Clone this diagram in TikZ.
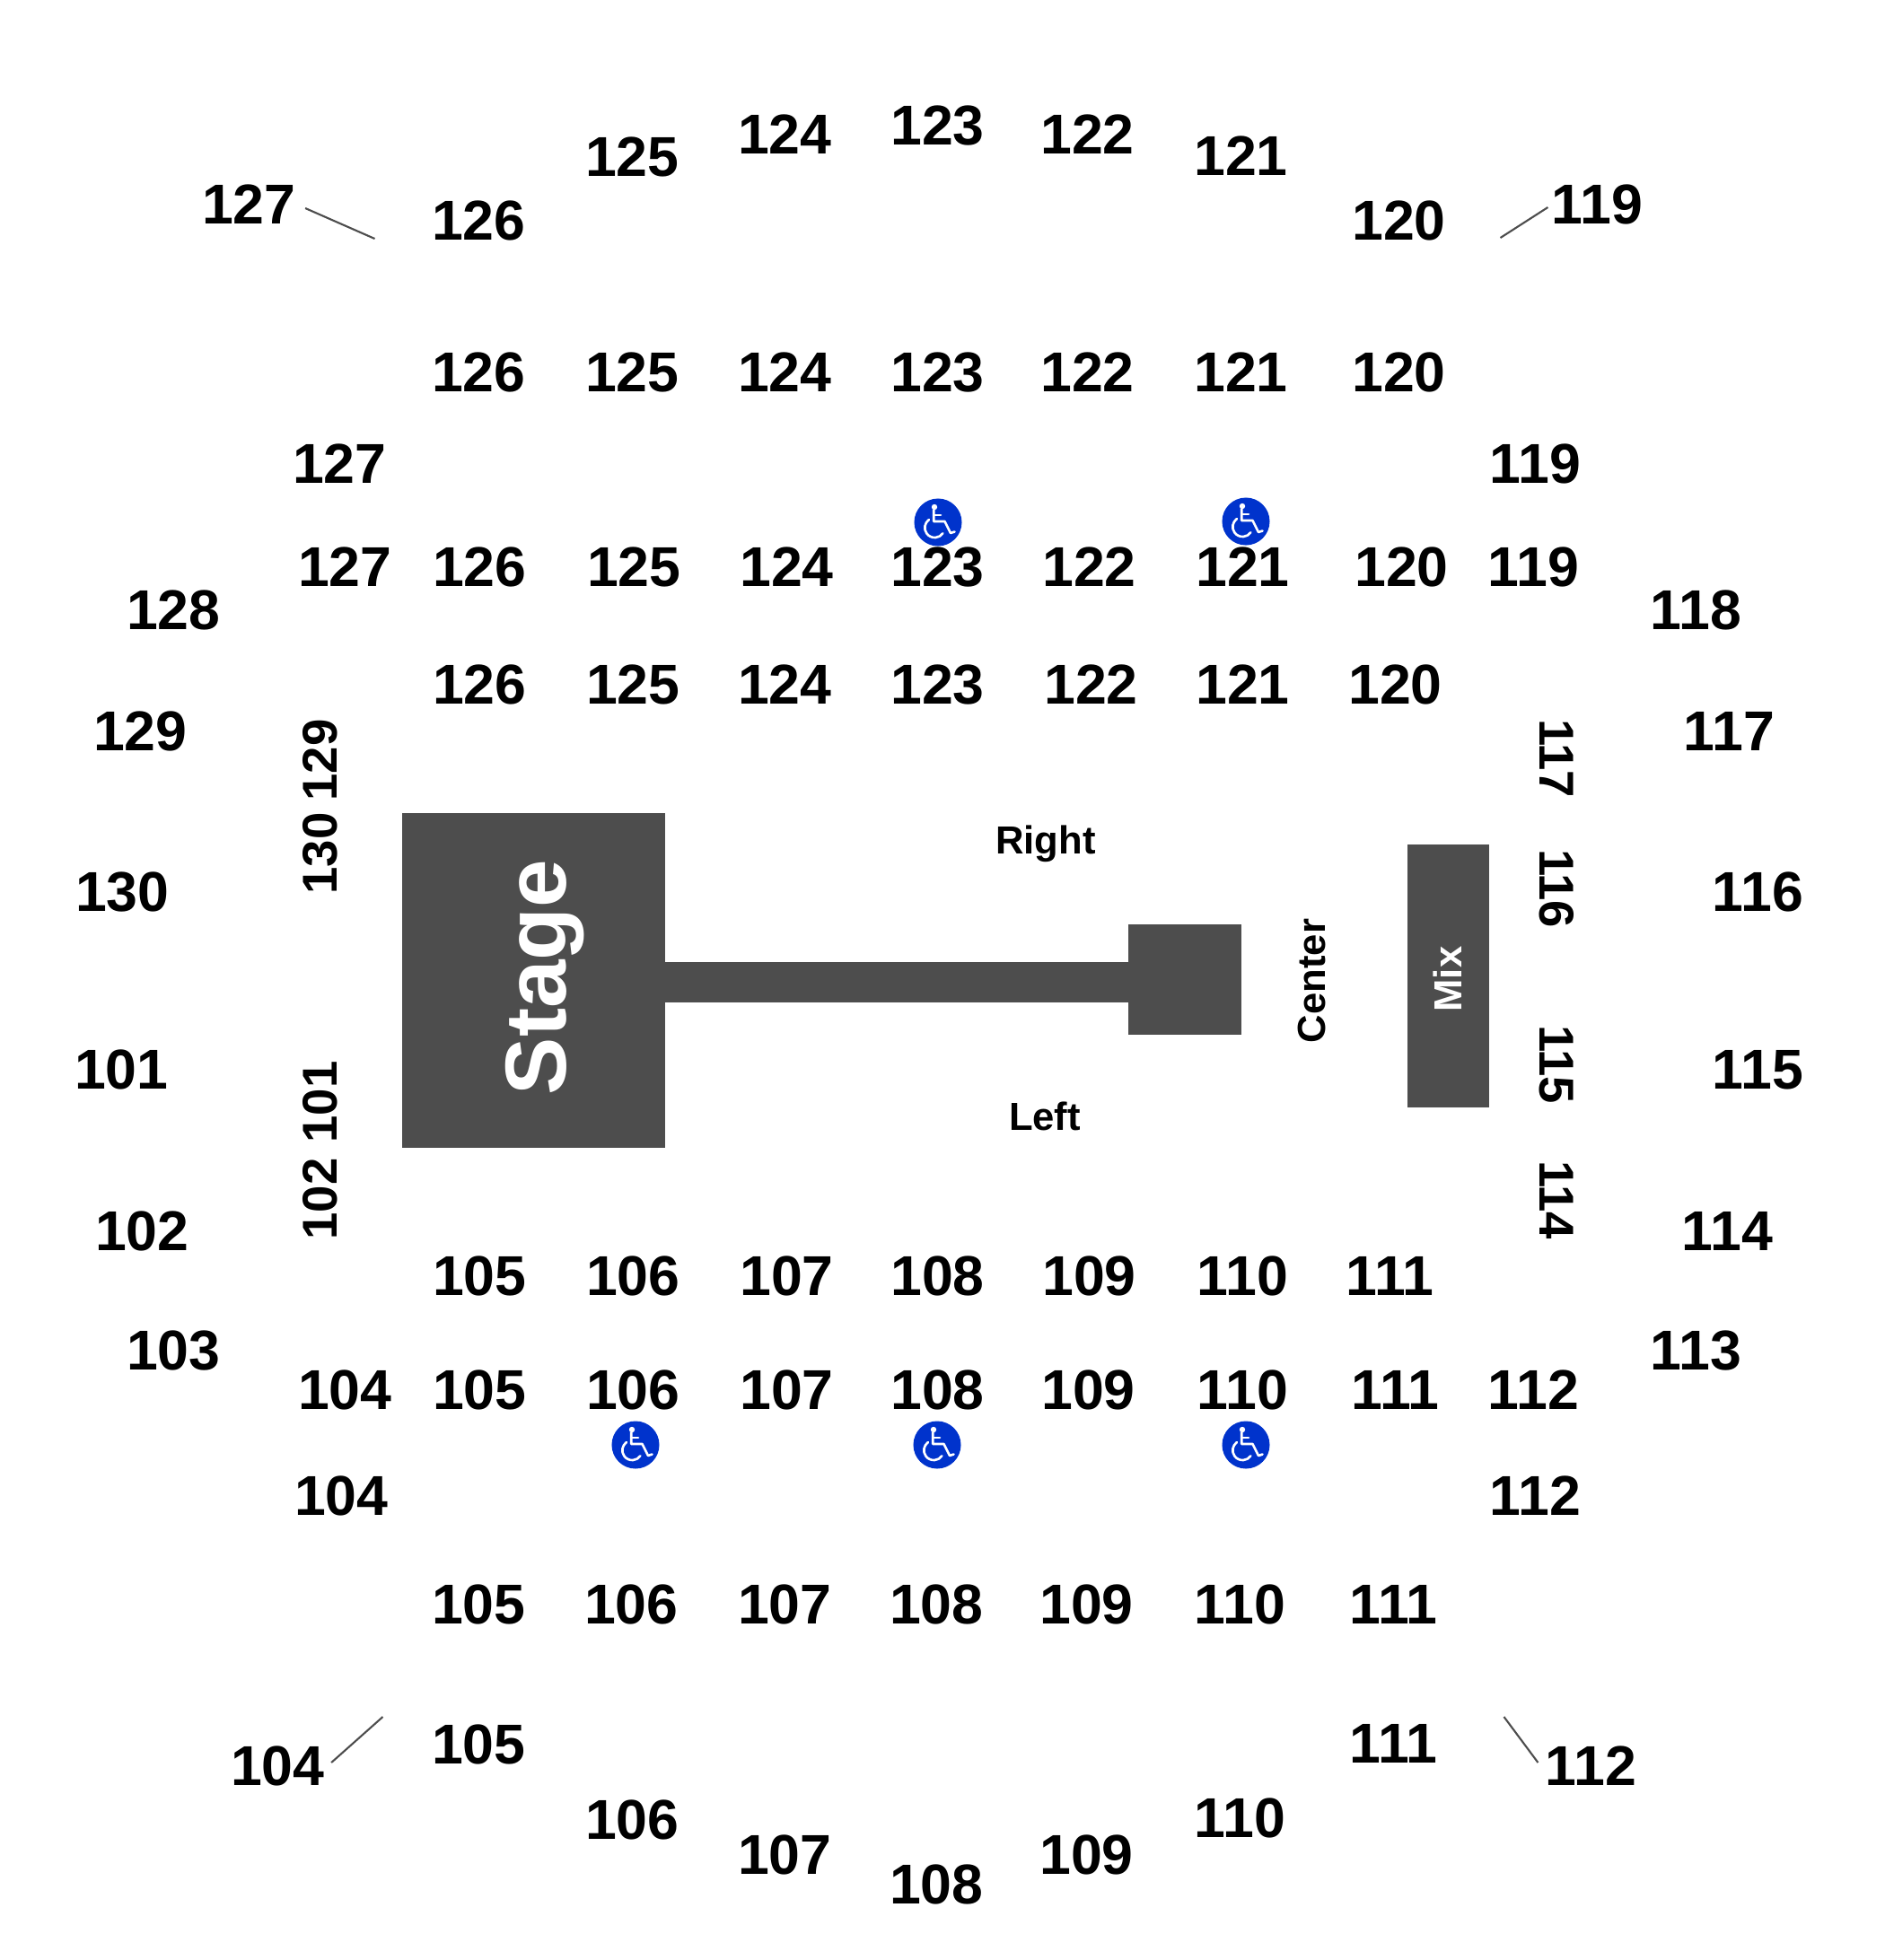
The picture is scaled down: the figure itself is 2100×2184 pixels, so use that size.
\documentclass[tikz,border=0pt]{standalone}
\usepackage{fontspec}
\setmainfont{Liberation Sans}
\usetikzlibrary{positioning, calc}

\definecolor{stagegray}{HTML}{4D4D4D}
\definecolor{accessblue}{HTML}{0033CC}

\begin{document}
\begin{tikzpicture}[
  x=0.01cm, y=-0.01cm,
  % Section numbers around the floor
  seclabel/.style={inner sep=2.5pt, xshift=0.4pt, font=\fontsize{17.8}{20}\selectfont\bfseries, text=black},
  sideup/.style={seclabel, rotate=90, font=\fontsize{15.5}{18}\selectfont\bfseries},
  sidedown/.style={seclabel, rotate=-90, font=\fontsize{15.5}{18}\selectfont\bfseries},
  zonelabel/.style={inner sep=0pt, font=\fontsize{12.4}{14}\selectfont\bfseries, text=#1},
  zonelabel/.default=black,
  % Solid gray stage parts; size given per node
  block/.style={rectangle, fill=stagegray, inner sep=0pt, outer sep=0pt},
  leader/.style={stagegray, line width=0.6pt},
  access/.style={circle, fill=accessblue, inner sep=0pt, minimum size=0.53cm},
  accessmark/.style={white, line width=0.75pt, line cap=round, line join=round},
]
\useasboundingbox (0,0) rectangle (2100,2184);

%% ── Stage, runway, mix ──────────────────────────────────────────────────
\node[block, minimum width=2.92cm, minimum height=3.73cm] (stage) at (594.5,1092.5) {};
\node[block, minimum width=5.2cm, minimum height=0.45cm] (runway) at (998.5,1094.5) {};
\node[block, minimum width=1.25cm, minimum height=1.23cm] (thrust) at (1320,1091.5) {};
\node[block, minimum width=0.91cm, minimum height=2.93cm] (mix) at (1613.5,1087.5) {};

\node[inner sep=0pt, rotate=90, text=white, font=\fontsize{27.4}{28}\selectfont\bfseries] (stagetxt) at (607,1089) {Stage};
\node[zonelabel=white, rotate=90] (mixtxt) at (1613,1091) {Mix};
\node[zonelabel] (righttxt) at (1165,940) {Right};
\node[zonelabel] (lefttxt) at (1164,1244) {Left};
\node[zonelabel, rotate=90] (centertxt) at (1461,1093) {Center};

%% ── Outer ring, top ─────────────────────────────────────────────────────
\foreach \sec/\x/\y in {127/276/228, 126/532/246, 125/703/175, 124/873/150, 123/1043/140,
                        122/1210/150, 121/1381/174, 120/1557/246, 119/1778/228}
  \node[seclabel] (top\sec) at (\x,\y) {\sec};

%% ── Upper rows ──────────────────────────────────────────────────────────
\foreach \sec/\x in {126/532, 125/703, 124/873, 123/1043, 122/1210, 121/1381, 120/1557}
  \node[seclabel] (upa\sec) at (\x,415) {\sec};
\foreach \sec/\x in {127/383, 126/533, 125/705, 124/875, 123/1043, 122/1212, 121/1383, 120/1560, 119/1707}
  \node[seclabel] (upb\sec) at (\x,632) {\sec};
\foreach \sec/\x in {126/533, 125/704, 124/873, 123/1043, 122/1214, 121/1383, 120/1553}
  \node[seclabel] (upc\sec) at (\x,763) {\sec};
\node[seclabel] (upd127) at (377,517) {127};
\node[seclabel] (upd119) at (1709,517) {119};

%% ── Sides ───────────────────────────────────────────────────────────────
\foreach \sec/\x/\y in {128/192/680, 129/155/815, 130/135/994, 101/134/1192, 102/157/1372, 103/192/1505,
                        118/1888/680, 117/1925/815, 116/1957/994, 115/1957/1192, 114/1923/1372, 113/1888/1505}
  \node[seclabel] (side\sec) at (\x,\y) {\sec};
\foreach \sec/\y in {129/847, 130/951, 101/1228, 102/1336}
  \node[sideup] (flr\sec) at (355,\y) {\sec};
\foreach \sec/\y in {117/845, 116/990, 115/1186, 114/1337}
  \node[sidedown] (flr\sec) at (1732.5,\y) {\sec};

%% ── Lower rows ──────────────────────────────────────────────────────────
\foreach \sec/\x in {105/533, 106/704, 107/875, 108/1043, 109/1212, 110/1383, 111/1547}
  \node[seclabel] (lowa\sec) at (\x,1422) {\sec};
\foreach \sec/\x in {104/383, 105/533, 106/704, 107/875, 108/1043, 109/1211, 110/1383, 111/1553, 112/1707}
  \node[seclabel] (lowb\sec) at (\x,1549) {\sec};
\foreach \sec/\x in {105/532, 106/702, 107/873, 108/1042, 109/1209, 110/1380, 111/1551}
  \node[seclabel] (lowc\sec) at (\x,1788) {\sec};
\node[seclabel] (lowd104) at (379,1667) {104};
\node[seclabel] (lowd112) at (1709,1667) {112};

%% ── Outer ring, bottom ──────────────────────────────────────────────────
\foreach \sec/\x/\y in {104/308/1968, 105/532/1944, 106/703/2028, 107/873/2067, 108/1042/2100,
                        109/1209/2067, 110/1380/2026, 111/1551/1943, 112/1771/1968}
  \node[seclabel] (bot\sec) at (\x,\y) {\sec};

%% ── Wheelchair marks ────────────────────────────────────────────────────
\foreach \i/\x/\y in {1/1045/582, 2/1388/581, 3/708/1610, 4/1044/1610, 5/1388/1610} {
  \node[access] (acc\i) at (\x,\y) {};
  \fill[white] (acc\i.center) ++(-4,-17) circle (3.2);
  \draw[accessmark] (acc\i.center) ++(-4.7,-14) -- ++(0,13) -- ++(12.2,0) -- ++(6.5,13) -- ++(4.5,-1.5);
  \draw[accessmark] (acc\i.center) ++(-4.7,-8) -- ++(7.7,0);
  \draw[accessmark] (acc\i.center) ++(-10,-3) arc[start angle=125, end angle=325, x radius=11, y radius=-11];
}

%% ── Leaders ─────────────────────────────────────────────────────────────
\coordinate (tip127) at (417.5,266);
\coordinate (tip119) at (1671.5,265);
\coordinate (tip104) at (426.5,1913);
\coordinate (tip112) at (1675.5,1913);
\draw[leader] ($(top127.east)+(1,4)$) -- (tip127);
\draw[leader] ($(top119.west)+(5,3)$) -- (tip119);
\draw[leader] ($(bot104.east)+(-2,-4)$) -- (tip104);
\draw[leader] ($(bot112.west)+(1,-4)$) -- (tip112);

\end{tikzpicture}
\end{document}
